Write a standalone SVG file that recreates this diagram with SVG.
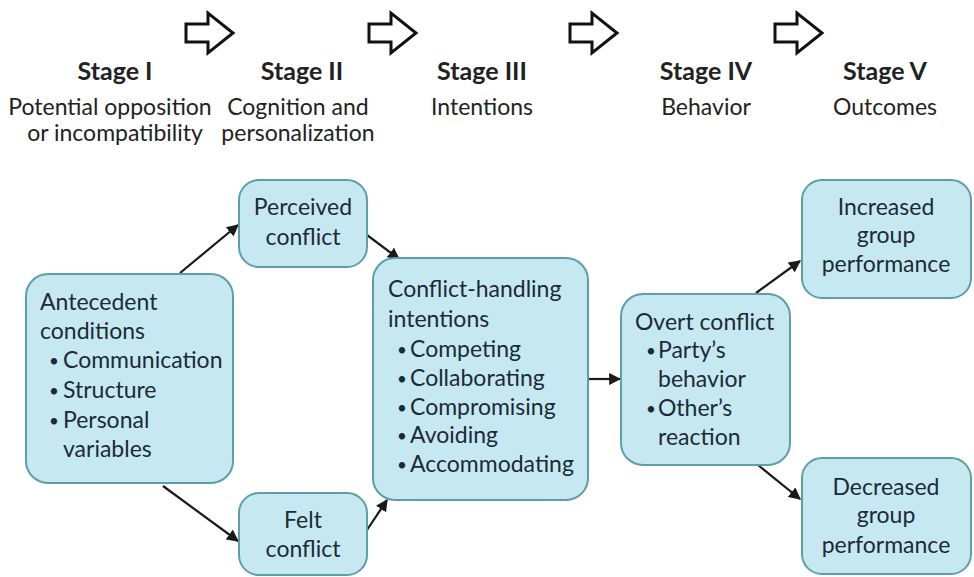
<svg xmlns="http://www.w3.org/2000/svg" width="974" height="577" viewBox="0 0 974 577">
<defs>
<style>
.box{fill:#c6e9f1;stroke:#5f9ea8;stroke-width:2}
.t{font-family:Lato,"Open Sans","Liberation Sans",sans-serif;font-size:23px;fill:#1c2a38}
.b{font-family:Lato,"Open Sans","Liberation Sans",sans-serif;font-size:17px;fill:#1c2a38}
.h{font-family:Lato,"Open Sans","Liberation Sans",sans-serif;font-size:25px;font-weight:bold;fill:#222;text-anchor:middle}
.s{font-family:Lato,"Open Sans","Liberation Sans",sans-serif;font-size:23px;fill:#222;text-anchor:middle}
.c{text-anchor:middle}
.conn{stroke:#1a1a1a;stroke-width:2.2;fill:none;marker-end:url(#ah)}
.big{fill:#fff;stroke:#111;stroke-width:3;stroke-linejoin:miter}
</style>
<marker id="ah" viewBox="0 0 10 10" refX="9" refY="5" markerWidth="5.5" markerHeight="5.5" orient="auto" markerUnits="strokeWidth">
<path d="M0,0 L10,5 L0,10 z" fill="#1a1a1a"/>
</marker>
<polygon id="bigarrow" class="big" points="0,11 22,11 22,0 47,20 22,40 22,29 0,29"/>
</defs>
<rect width="974" height="577" fill="#fff"/>
<g id="stage-arrows">
<use href="#bigarrow" x="186" y="13"/>
<use href="#bigarrow" x="369" y="13"/>
<use href="#bigarrow" x="570" y="13"/>
<use href="#bigarrow" x="775" y="13"/>
</g>
<g id="stage1"><text class="h" x="115" y="80">Stage I</text><text class="s" x="110" y="115">Potential opposition</text><text class="s" x="115" y="141">or incompatibility</text></g>
<g id="stage2"><text class="h" x="302" y="80">Stage II</text><text class="s" x="298" y="115">Cognition and</text><text class="s" x="298" y="141">personalization</text></g>
<g id="stage3"><text class="h" x="482" y="80">Stage III</text><text class="s" x="482" y="115">Intentions</text></g>
<g id="stage4"><text class="h" x="706" y="80">Stage IV</text><text class="s" x="706" y="115">Behavior</text></g>
<g id="stage5"><text class="h" x="885" y="80">Stage V</text><text class="s" x="885" y="115">Outcomes</text></g>
<g id="connectors">
<line class="conn" x1="180" y1="273" x2="238" y2="225"/>
<line class="conn" x1="367" y1="235" x2="399" y2="259"/>
<line class="conn" x1="163" y1="486" x2="238" y2="541"/>
<line class="conn" x1="367" y1="530" x2="387" y2="500"/>
<line class="conn" x1="588" y1="379" x2="620" y2="379"/>
<line class="conn" x1="756" y1="293" x2="800" y2="261"/>
<line class="conn" x1="758" y1="465" x2="800" y2="499"/>
</g>
<g id="antecedent">
<rect class="box" x="26" y="274" width="207" height="209" rx="22"/>
<text class="t" x="40" y="310">Antecedent</text>
<text class="t" x="40" y="339">conditions</text>
<text class="b" x="49" y="367">•</text><text class="t" x="63" y="368">Communication</text>
<text class="b" x="49" y="397">•</text><text class="t" x="63" y="398">Structure</text>
<text class="b" x="49" y="427">•</text><text class="t" x="63" y="428">Personal</text>
<text class="t" x="63" y="457">variables</text>
</g>
<g id="perceived">
<rect class="box" x="239" y="180" width="128" height="87" rx="20"/>
<text class="t c" x="303" y="215">Perceived</text>
<text class="t c" x="303" y="245">conflict</text>
</g>
<g id="felt">
<rect class="box" x="239" y="493" width="128" height="82" rx="20"/>
<text class="t c" x="303" y="528">Felt</text>
<text class="t c" x="303" y="557">conflict</text>
</g>
<g id="intentions">
<rect class="box" x="373" y="258" width="215" height="242" rx="22"/>
<text class="t" x="388" y="297">Conflict-handling</text>
<text class="t" x="388" y="327">intentions</text>
<text class="b" x="397" y="356">•</text><text class="t" x="410" y="357">Competing</text>
<text class="b" x="397" y="385">•</text><text class="t" x="410" y="386">Collaborating</text>
<text class="b" x="397" y="414">•</text><text class="t" x="410" y="415">Compromising</text>
<text class="b" x="397" y="442">•</text><text class="t" x="410" y="443">Avoiding</text>
<text class="b" x="397" y="471">•</text><text class="t" x="410" y="472">Accommodating</text>
</g>
<g id="overt">
<rect class="box" x="621" y="294" width="169" height="171" rx="22"/>
<text class="t" x="635" y="330">Overt conflict</text>
<text class="b" x="646" y="357">•</text><text class="t" x="658" y="358">Party’s</text>
<text class="t" x="658" y="387">behavior</text>
<text class="b" x="646" y="415">•</text><text class="t" x="658" y="416">Other’s</text>
<text class="t" x="658" y="445">reaction</text>
</g>
<g id="increased">
<rect class="box" x="802" y="180" width="169" height="118" rx="20"/>
<text class="t c" x="886" y="215">Increased</text>
<text class="t c" x="886" y="243">group</text>
<text class="t c" x="886" y="272">performance</text>
</g>
<g id="decreased">
<rect class="box" x="802" y="458" width="169" height="116" rx="20"/>
<text class="t c" x="886" y="495">Decreased</text>
<text class="t c" x="886" y="523">group</text>
<text class="t c" x="886" y="553">performance</text>
</g>
</svg>
